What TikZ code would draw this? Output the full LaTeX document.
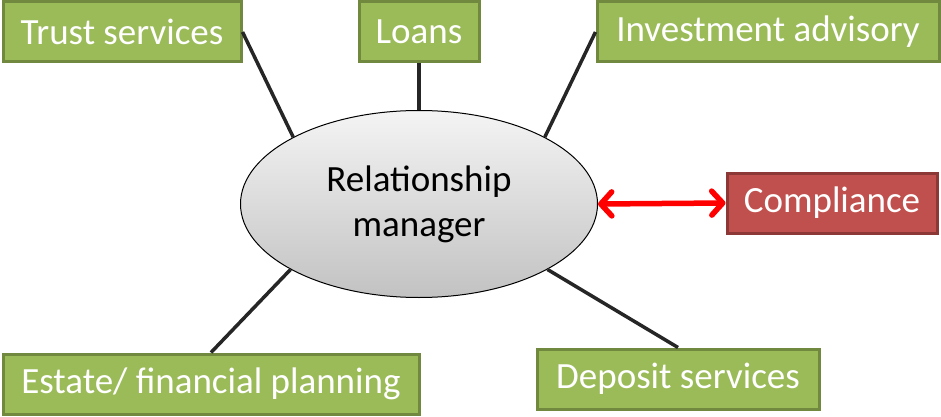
\documentclass[tikz,border=0pt]{standalone}
\usepackage{fontspec}
\setmainfont{Carlito}
\usepackage{tikz}
\usetikzlibrary{shapes, shadows, arrows.meta}

\definecolor{boxgreen}{RGB}{155,187,89}
\definecolor{boxgreenline}{RGB}{113,137,63}
\definecolor{boxred}{RGB}{192,80,77}
\definecolor{boxredline}{RGB}{140,56,54}
\definecolor{linkgray}{RGB}{38,38,38}

\begin{document}
\begin{tikzpicture}[x=1pt, y=-1pt,
	service/.style={draw=boxgreenline, fill=boxgreen, line width=3pt, text=white,
		font=\fontsize{37}{42}\selectfont, inner sep=0pt, minimum height=60pt,
		drop shadow={opacity=0.2, shadow xshift=1.5pt, shadow yshift=-1.5pt}},
	link/.style={draw=linkgray, line width=3.5pt}]
	\useasboundingbox (0,0) rectangle (941,417);
	% centre
	\node[ellipse, draw=black, line width=1pt, minimum width=357pt, minimum height=187pt,
		top color={rgb,255:red,244;green,244;blue,244}, bottom color={rgb,255:red,194;green,194;blue,194},
		align=center, font=\fontsize{37}{45}\selectfont] (rm) at (419,204) {Relationship\\manager};
	% services
	\node[service, minimum width=238pt] (trust) at (122,32) {Trust services};
	\node[service, minimum width=120pt] (loans) at (419,32) {Loans};
	\node[service, minimum width=342pt] (invest) at (768,32) {Investment advisory};
	\node[service, minimum width=416pt] (estate) at (211,384) {Estate/ financial planning};
	\node[service, minimum width=282pt] (deposit) at (678,379) {Deposit services};
	\node[service, draw=boxredline, fill=boxred, minimum width=210pt] (comp) at (832,203) {Compliance};
	% links
	\draw[link] (trust.east) -- (rm.152);
	\draw[link] (loans.south) -- (rm.north);
	\draw[link] (invest.west) -- (rm.28);
	\draw[link] (estate.north) -- (rm.207);
	\draw[link] (deposit.north) -- (rm.-27);
	\draw[red, line width=5.5pt, {Straight Barb[length=11pt, width=24pt, round]}-{Straight Barb[length=11pt, width=24pt, round]}]
		(rm.east) -- (comp.west);
\end{tikzpicture}
\end{document}
